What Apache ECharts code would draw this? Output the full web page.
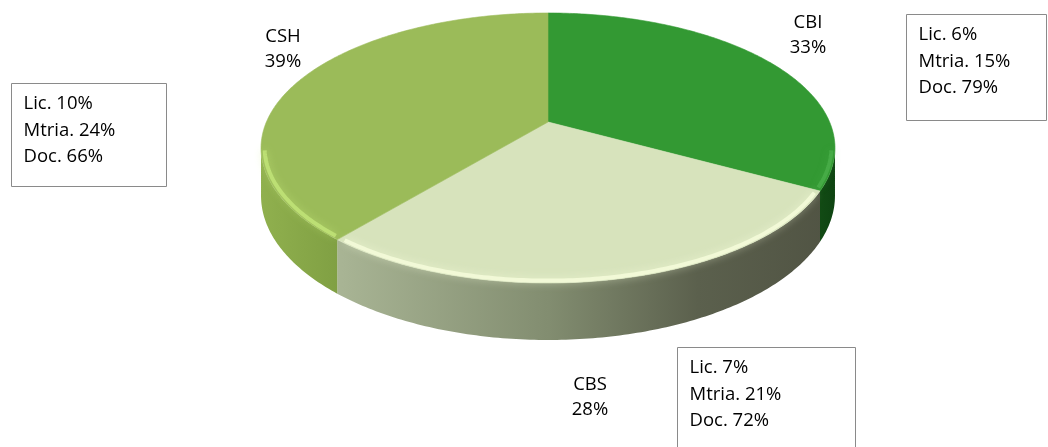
<!DOCTYPE html>
<html>
<head>
<meta charset="utf-8">
<script src="https://cdn.jsdelivr.net/npm/echarts@6/dist/echarts.min.js"></script>
<style>
  html, body { margin: 0; padding: 0; background: #ffffff; }
  #chart { width: 1048px; height: 447px; }
</style>
</head>
<body>
<div id="chart"></div>
<script>
// Share of each campus and its breakdown by degree level
const categories = ['CBI', 'CBS', 'CSH'];
const shares = [33, 28, 39];
const lic = [6, 7, 10];
const mtria = [15, 21, 24];
const doc = [79, 72, 66];

// Look of the tilted disc
const topColors = ['#339933', '#D7E3BC', '#9BBB59'];
const wallStops = [
  [[0, '#2A7A2A'], [0.9, '#1B5E1D'], [1, '#0E4311']],
  [[0, '#B0BC9C'], [0.14, '#A8B494'], [0.5, '#828D70'], [0.76, '#5B604D'], [1, '#505343']],
  [[0, '#90B04E'], [0.15, '#7E9E42'], [1, '#6E8C38']]
];
const rimColors = ['rgba(90,190,90,0.45)', 'rgba(248,255,222,0.75)', 'rgba(200,235,125,0.7)'];

// Disc geometry (perspective projection of a flat cylinder)
const CX = 548, CY = 122;     // pie centre on screen
const RX = 281.6, RY = 130;   // horizontal / depth radii
const K = 0.1926;             // perspective strength
const WALL = 46;              // thickness of the disc

// Label and note-box placement
const labelPos = [[808, 35], [590, 397], [283, 49]];
const boxPos = [[906.5, 14.5, 140, 106], [677.5, 347.5, 178, 110], [11.5, 83.5, 155, 103]];
const FONT = '18.5px "Open Sans"';

function project(theta, r) {
  const u = r * Math.sin(theta);
  const v = -r * Math.cos(theta);
  const d = 1 - K * v;
  return [CX + RX * u / d, CY + RY * v / d, d];
}

function arc(a0, a1, r) {
  const pts = [];
  const n = Math.max(2, Math.ceil((a1 - a0) / (Math.PI / 240)));
  for (let s = 0; s <= n; s++) {
    pts.push(project(a0 + (a1 - a0) * s / n, r === undefined ? 1 : r));
  }
  return pts;
}

const total = shares.reduce((a, b) => a + b, 0);
const visR = Math.acos(-K);          // right silhouette angle
const visL = 2 * Math.PI - visR;     // left silhouette angle

function renderItem(params, api) {
  const i = params.dataIndex;
  let before = 0;
  for (let j = 0; j < i; j++) before += shares[j];
  const a0 = before / total * 2 * Math.PI;
  const a1 = (before + api.value(0)) / total * 2 * Math.PI;
  const children = [];

  // front wall, only where it faces the viewer
  const w0 = Math.max(a0, visR), w1 = Math.min(a1, visL);
  if (w1 > w0) {
    const upper = arc(w0, w1);
    const lower = upper.map(p => [p[0], p[1] + WALL / p[2]]).reverse();
    const poly = upper.map(p => [p[0], p[1]]).concat(lower);
    children.push({
      type: 'polygon',
      z2: 1,
      shape: { points: poly },
      style: {
        fill: new echarts.graphic.LinearGradient(261, 0, 836, 0,
          wallStops[i].map(s => ({ offset: s[0], color: s[1] })), true)
      }
    });
    // soft bevel along the front rim
    children.push({
      type: 'polyline',
      z2: 12,
      shape: { points: arc(w0 + 0.02, w1 - 0.02, 0.988).map(p => [p[0], p[1]]) },
      style: { stroke: rimColors[i], lineWidth: 4, fill: null, shadowBlur: 8, shadowColor: rimColors[i] }
    });
  }

  // top face
  const topPts = [[CX, CY]].concat(arc(a0, a1).map(p => [p[0], p[1]]));
  children.push({
    type: 'polygon',
    z2: 10,
    shape: { points: topPts },
    style: { fill: topColors[i], stroke: topColors[i], lineWidth: 0.6 }
  });

  // category label with its share
  children.push({
    type: 'text',
    z2: 20,
    x: labelPos[i][0],
    y: labelPos[i][1],
    style: {
      text: categories[i] + '\n' + api.value(0) + '%',
      align: 'center',
      verticalAlign: 'middle',
      font: FONT,
      lineHeight: 25,
      fill: '#000000'
    }
  });

  return { type: 'group', children: children };
}

// Note boxes with the Lic. / Mtria. / Doc. split of each campus
const boxes = categories.map((c, i) => ({
  type: 'group',
  x: boxPos[i][0],
  y: boxPos[i][1],
  children: [
    {
      type: 'rect',
      shape: { x: 0, y: 0, width: boxPos[i][2], height: boxPos[i][3] },
      style: { fill: '#ffffff', stroke: '#8a8a8a', lineWidth: 1 }
    },
    {
      type: 'text',
      x: 12,
      y: 7,
      style: {
        text: 'Lic. ' + lic[i] + '%\nMtria. ' + mtria[i] + '%\nDoc. ' + doc[i] + '%',
        font: FONT,
        lineHeight: 26.5,
        fill: '#000000'
      }
    }
  ]
}));

const chart = echarts.init(document.getElementById('chart'), null, { renderer: 'canvas' });
chart.setOption({
  backgroundColor: '#ffffff',
  animation: false,
  series: [{
    type: 'custom',
    coordinateSystem: 'none',
    renderItem: renderItem,
    data: shares.map((v, i) => ({ name: categories[i], value: [v] }))
  }],
  graphic: { elements: boxes }
});
</script>
</body>
</html>
